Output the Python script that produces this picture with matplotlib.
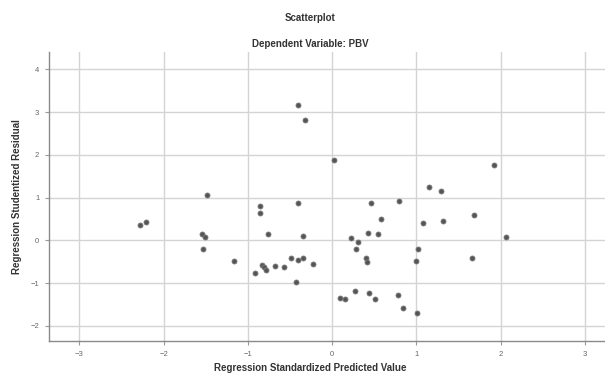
import matplotlib.pyplot as plt

# Standardized predicted values (x) and studentized residuals (y)
pred = [-2.28, -2.21,
        -0.40, -0.32, 0.02, -1.49, -0.85, -0.85, -0.41, -1.54, -1.51, -1.53,
        -0.76, -0.34, -1.16, -0.91, -0.83, -0.81, -0.79, -0.68, -0.57, -0.49,
        -0.41, -0.35, -0.23, -0.43,
        1.15, 1.29, 0.46, 0.80, 0.58, 1.08, 1.32, 0.43, 0.55, 0.23, 0.31,
        0.29, 0.40, 0.42, 1.02, 1.00, 0.27, 0.09, 0.15, 0.44, 0.51, 0.78,
        0.84, 1.01,
        1.92, 1.68, 2.06, 1.66]
resid = [0.36, 0.44,
         3.16, 2.82, 1.88, 1.07, 0.81, 0.64, 0.88, 0.15, 0.07, -0.20,
         0.14, 0.11, -0.49, -0.77, -0.57, -0.61, -0.69, -0.59, -0.61, -0.40,
         -0.46, -0.42, -0.56, -0.98,
         1.26, 1.16, 0.87, 0.93, 0.50, 0.41, 0.46, 0.18, 0.14, 0.05, -0.03,
         -0.20, -0.42, -0.50, -0.21, -0.47, -1.18, -1.34, -1.37, -1.22, -1.37,
         -1.28, -1.58, -1.69,
         1.76, 0.59, 0.08, -0.40]

x_ticks = [-3, -2, -1, 0, 1, 2, 3]
y_ticks = [-2, -1, 0, 1, 2, 3, 4]

plt.rcParams['font.family'] = ['Liberation Sans', 'DejaVu Sans']

fig = plt.figure(figsize=(6.05, 3.78), dpi=100)
ax = fig.add_axes([0.081, 0.098, 0.919, 0.764])

# scatter points
ax.scatter(pred, resid, s=13, color='#555555', edgecolors='#7a7a7a',
           linewidths=0.6, zorder=3)

ax.set_xlim(-3.36, 3.24)
ax.set_ylim(-2.35, 4.40)
ax.set_xticks(x_ticks)
ax.set_yticks(y_ticks)
ax.tick_params(labelsize=5.5, colors='#999999', labelcolor='#666666',
               length=3, width=0.8, pad=4)

# grid and frame
ax.grid(True, color='#d4d4d4', linewidth=1.0)
ax.set_axisbelow(True)
for side in ['top', 'right']:
    ax.spines[side].set_visible(False)
for side in ['left', 'bottom']:
    ax.spines[side].set_color('#8a8a8a')
    ax.spines[side].set_linewidth(1.0)

# titles and labels
fig.text(0.513, 0.952, 'Scatterplot', ha='center', va='center',
         fontsize=7, fontweight='bold', color='#333333')
fig.text(0.513, 0.884, 'Dependent Variable: PBV', ha='center', va='center',
         fontsize=7, fontweight='bold', color='#333333')
ax.set_xlabel('Regression Standardized Predicted Value', fontsize=7,
              fontweight='bold', color='#333333', labelpad=7)
ax.xaxis.set_label_coords(0.469, -0.075)
ax.set_ylabel('Regression Studentized Residual', fontsize=7,
              fontweight='bold', color='#333333', labelpad=6)

fig.savefig('out.png', dpi=100)
